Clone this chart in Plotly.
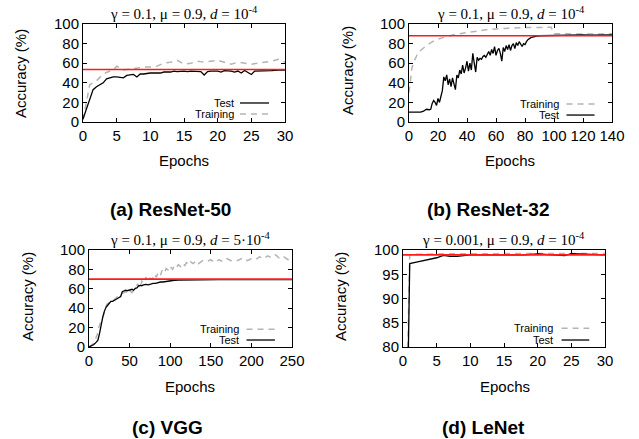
import plotly.graph_objects as go

# ---------------- data ----------------
# (a) ResNet-50
a_test_x = [0, 1.5, 2, 2.5, 3, 3.5, 4, 4.5, 5, 6, 6.5, 7, 7.5, 8, 8.5, 9, 10, 11, 11.5, 12, 13, 13.5, 14, 15, 15.5, 16, 17,
            17.5, 18, 18.5, 19, 20, 20.5, 21, 22, 22.5, 23, 23.5, 24, 25, 25.5, 26, 27, 28, 29, 30]
a_test_y = [3, 33, 36, 38, 40, 44, 45, 46, 46, 45, 47.5, 48, 48.5, 46, 49, 49, 50, 50, 50, 51, 51, 52, 51.5, 52, 51.5, 52,
            52, 51.5, 48, 51.5, 52, 52, 51, 52.5, 52, 51, 52, 50, 52.5, 48.5, 52, 52, 52, 52.5, 53, 53]
a_train_x = [0, 1, 2, 2.5, 3, 4, 4.5, 5, 6, 7, 8, 9, 10, 11, 12, 13, 14, 15, 16, 17, 18, 19, 20, 21, 22, 23, 24, 25, 26,
             27, 28, 29, 30]
a_train_y = [2, 38, 42, 45, 49, 52, 53, 57, 53, 54, 55, 56, 56, 57, 60, 61, 63, 59, 60, 62, 61, 62, 63, 61, 59, 61, 60, 59,
             60, 61, 62, 64, 61]
a_ref = 53.5

# (b) ResNet-32
b_test_x = [0, 2, 4, 6, 8, 10, 12, 14, 15, 16, 17, 18, 19, 20, 21, 22, 23, 24, 25, 26, 27, 28, 29, 30, 31, 32, 33, 34, 35,
            36, 37, 38, 39, 40, 41, 42, 43, 44, 45, 46, 47, 48, 49, 50, 51, 52, 53, 54, 55, 56, 57, 58, 59, 60, 61, 62,
            63, 64, 65, 66, 67, 68, 69, 70, 71, 72, 73, 74, 75, 76, 77, 78, 79, 80, 81, 82, 84, 86, 88, 90, 95, 100,
            105, 110, 115, 120, 125, 130, 135, 140]
b_test_y = [10, 10, 9.5, 10, 10, 11, 13, 12.5, 13, 19, 22, 20, 17, 24, 20, 26, 32, 46, 42, 48, 38, 44, 36, 45, 40, 33, 48,
            45, 53, 49, 58, 50, 55, 62, 52, 60, 53, 70, 60, 51, 66, 63, 65, 64, 67, 68, 66, 70, 72, 68, 74, 70, 77, 68,
            73, 75, 70, 62, 76, 72, 78, 74, 79, 73, 78, 80, 75, 81, 78, 82, 79, 77, 80, 79, 82, 84, 86, 87, 87.7, 88,
            88.2, 88.5, 88.5, 88.8, 88.6, 88.9, 88.7, 88.9, 88.8, 89]
b_train_x = [0, 1, 2, 3, 4, 6, 8, 10, 12, 14, 16, 18, 20, 24, 28, 32, 36, 40, 45, 50, 55, 60, 65, 70, 75, 80, 85, 90, 95,
             98, 100, 110, 120, 130, 140]
b_train_y = [30, 45, 55, 60, 64, 70, 73, 76, 78, 80, 82, 83.5, 84.5, 86.5, 88, 89.5, 90.5, 91.5, 92.5, 93.5, 94.5, 95,
             95.5, 96, 96, 96.3, 96.5, 96.5, 96.6, 96.6, 90, 89.8, 90, 89.8, 90]
b_ref = 88

# (c) VGG
c_test_x = [0, 3, 6, 9, 11, 13, 15, 17, 19, 21, 23, 25, 27, 29, 31, 33, 35, 37, 39, 41, 43, 45, 47, 50, 53, 55, 57, 59,
            61, 63, 65, 67, 70, 73, 76, 79, 82, 85, 88, 91, 94, 97, 100, 105, 110, 120, 130, 140, 160, 180, 200, 220,
            250]
c_test_y = [0, 1, 2.5, 5, 7, 14, 24, 31, 37, 41, 43, 45, 47, 47, 48.5, 49, 50, 51, 52, 57, 58, 58.5, 58, 58.5, 59.5,
            58.5, 60.5, 61, 63, 63.5, 63, 64, 64.5, 64, 65, 65.5, 65.5, 66.5, 67, 67, 67.5, 68, 68.5, 68.8, 69, 69.2,
            69.3, 69.4, 69.5, 69.5, 69.5, 69.5, 69.5]
c_train_x = [0, 5, 10, 12, 15, 18, 20, 22, 25, 28, 30, 33, 35, 38, 40, 43, 45, 48, 50, 53, 55, 58, 60, 63, 65, 68, 70,
             73, 75, 78, 80, 83, 85, 88, 90, 93, 95, 98, 100, 103, 105, 108, 110, 113, 115, 118, 120, 123, 125, 128,
             130, 133, 135, 138, 140, 145, 150, 155, 160, 165, 170, 175, 180, 185, 190, 195, 200, 205, 210, 215, 220,
             225, 230, 235, 240, 245, 250]
c_train_y = [0, 3, 12, 20, 27, 33, 40, 44, 46, 48, 48, 50, 52, 53, 55, 56, 57, 55, 58, 56, 59, 62, 65, 60, 68, 66, 72,
             67, 71, 70, 75, 72, 77, 74, 79, 76, 81, 79, 83, 80, 84, 82, 85, 83, 86, 84, 87, 85, 88, 86, 87, 89, 86,
             88, 89, 88, 90, 87, 90, 88, 91, 89, 88, 90, 92, 89, 91, 90, 93, 91, 94, 92, 95, 91, 93, 90, 91]
c_ref = 70

# (d) LeNet
d_test_x = [0, 1, 2, 3, 4, 5, 6, 7, 8, 9, 10, 12, 14, 16, 18, 20, 22, 24, 25, 26, 28, 30]
d_test_y = [10, 97.2, 97.5, 97.8, 98.1, 98.4, 98.9, 98.7, 98.7, 98.9, 99.0, 99.0, 99.0, 98.9, 99.0, 99.2, 99.1, 98.85,
            99.25, 99.2, 98.95, 99.0]
d_train_x = [0, 1, 2, 4, 6, 8, 10, 12, 14, 16, 18, 20, 22, 24, 26, 28, 30]
d_train_y = [30, 99.0, 99.1, 99.2, 99.2, 99.25, 99.2, 99.3, 99.25, 99.3, 99.3, 99.25, 99.3, 99.25, 99.3, 99.3, 99.3]
d_ref = 99.0

titles = [
    "γ = 0.1, μ = 0.9, <i>d</i> = 10<sup>-4</sup>",
    "γ = 0.1, μ = 0.9, <i>d</i> = 10<sup>-4</sup>",
    "γ = 0.1, μ = 0.9, <i>d</i> = 5·10<sup>-4</sup>",
    "γ = 0.001, μ = 0.9, <i>d</i> = 10<sup>-4</sup>",
]
captions = ["(a) ResNet-50", "(b) ResNet-32", "(c) VGG", "(d) LeNet"]

# ---------------- layout helpers ----------------
W, H = 639, 439
def px(x): return x / W
def py(y): return 1 - y / H

panels = [
    dict(box=(83, 285, 24, 122), xr=[0, 30], dx=5, yr=[0, 100], dy=20,
         test=(a_test_x, a_test_y), train=(a_train_x, a_train_y), ref=a_ref,
         leg=dict(order=["Test", "Training"], tx=0.757, l0=0.777, l1=0.921, ys=[0.194, 0.082]),
         ylab=(20, 74), xlab=(184, 160), cap=(170, 210), title_y=13),
    dict(box=(409, 612, 24, 122), xr=[0, 140], dx=20, yr=[0, 100], dy=20,
         test=(b_test_x, b_test_y), train=(b_train_x, b_train_y), ref=b_ref,
         leg=dict(order=["Training", "Test"], tx=0.749, l0=0.776, l1=0.914, ys=[0.184, 0.071]),
         ylab=(348, 71), xlab=(510, 160), cap=(488, 210), title_y=13),
    dict(box=(89, 292, 250, 347), xr=[0, 250], dx=50, yr=[0, 100], dy=20,
         test=(c_test_x, c_test_y), train=(c_train_x, c_train_y), ref=c_ref,
         leg=dict(order=["Training", "Test"], tx=0.749, l0=0.776, l1=0.916, ys=[0.182, 0.072]),
         ylab=(27, 297), xlab=(190, 386), cap=(167, 427), title_y=239),
    dict(box=(403, 605, 250, 347), xr=[0, 30], dx=5, yr=[80, 100], dy=5,
         test=(d_test_x, d_test_y), train=(d_train_x, d_train_y), ref=d_ref,
         leg=dict(order=["Training", "Test"], tx=0.752, l0=0.785, l1=0.922, ys=[0.193, 0.072]),
         ylab=(340, 297), xlab=(505, 386), cap=(483, 427), title_y=239),
]

SANS = "Liberation Sans, Arial, sans-serif"
SERIF = "Liberation Serif, Times New Roman, serif"
GRAY = "#b4b4b4"
DASH = "6px,5px"

fig = go.Figure()
annotations = []
shapes = []
layout = dict(width=W, height=H, margin=dict(l=0, r=0, t=0, b=0, pad=0),
              paper_bgcolor="white", plot_bgcolor="white", showlegend=False)

for i, p in enumerate(panels):
    n = "" if i == 0 else str(i + 1)
    xa, ya = "x" + n, "y" + n
    x0, x1, y0, y1 = p["box"]
    axcommon = dict(showline=True, linecolor="black", linewidth=1, mirror="ticks", ticks="inside",
                    ticklen=4, tickcolor="black", showgrid=False, zeroline=False, automargin=False,
                    tickfont=dict(family=SANS, size=15, color="black"))
    layout["xaxis" + n] = dict(domain=[px(x0), px(x1)], range=p["xr"], tick0=0, dtick=p["dx"],
                               anchor=ya, **axcommon)
    layout["yaxis" + n] = dict(domain=[py(y1), py(y0)], range=p["yr"], tick0=p["yr"][0], dtick=p["dy"],
                               anchor=xa, **axcommon)

    tx_, ty_ = p["train"]
    fig.add_trace(go.Scatter(x=tx_, y=ty_, mode="lines", xaxis=xa, yaxis=ya,
                             line=dict(color=GRAY, width=1.5, dash=DASH)))
    sx, sy = p["test"]
    fig.add_trace(go.Scatter(x=sx, y=sy, mode="lines", xaxis=xa, yaxis=ya,
                             line=dict(color="black", width=1.3)))
    fig.add_trace(go.Scatter(x=p["xr"], y=[p["ref"], p["ref"]], mode="lines", xaxis=xa, yaxis=ya,
                             line=dict(color="#ff1a1a", width=1.6)))

    # legend
    lg = p["leg"]
    for name, yy in zip(lg["order"], lg["ys"]):
        annotations.append(dict(text=name, x=lg["tx"], y=yy, xref=xa + " domain", yref=ya + " domain",
                                xanchor="right", yanchor="middle", showarrow=False,
                                font=dict(family=SANS, size=11, color="black")))
        if name == "Test":
            ln = dict(color="black", width=1.3)
        else:
            ln = dict(color=GRAY, width=1.5, dash=DASH)
        shapes.append(dict(type="line", xref=xa + " domain", yref=ya + " domain",
                           x0=lg["l0"], x1=lg["l1"], y0=yy, y1=yy, line=ln))

    # panel title
    annotations.append(dict(text=titles[i], x=(x0 + x1) / 2 / W, y=py(p["title_y"]), xref="paper", yref="paper",
                            xanchor="center", yanchor="middle", showarrow=False,
                            font=dict(family=SERIF, size=15, color="black")))
    # axis labels
    annotations.append(dict(text="Accuracy (%)", x=px(p["ylab"][0]), y=py(p["ylab"][1]), xref="paper",
                            yref="paper", xanchor="center", yanchor="middle", textangle=-90, showarrow=False,
                            font=dict(family=SANS, size=15, color="black")))
    annotations.append(dict(text="Epochs", x=px(p["xlab"][0]), y=py(p["xlab"][1]), xref="paper",
                            yref="paper", xanchor="center", yanchor="middle", showarrow=False,
                            font=dict(family=SANS, size=15, color="black")))
    annotations.append(dict(text="<b>" + captions[i] + "</b>", x=px(p["cap"][0]), y=py(p["cap"][1]),
                            xref="paper", yref="paper", xanchor="center", yanchor="middle", showarrow=False,
                            font=dict(family=SANS, size=19, color="black")))

layout["annotations"] = annotations
layout["shapes"] = shapes
fig.update_layout(**layout)
fig.write_html("out.html", config={"displayModeBar": False},
               post_script="document.body.style.margin='0';document.body.style.padding='0';"
                           "document.documentElement.style.overflow='hidden';")
